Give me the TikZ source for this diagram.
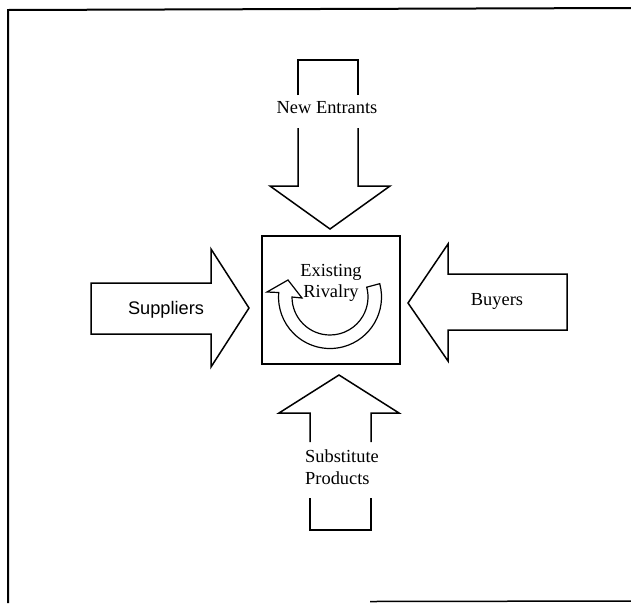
\documentclass[tikz,border=0pt]{standalone}
\usepackage{fontspec}
\setmainfont{Liberation Serif}
\newfontfamily\suppfont{Liberation Sans}
\begin{document}
\begin{tikzpicture}[x=1pt,y=-1pt,
  shape line/.style={line width=1.5pt, line join=miter},
  frame line/.style={line width=2pt},
  lbl/.style={inner sep=0pt, font=\fontsize{18.4}{21.5}\selectfont}]
\useasboundingbox (0,0) rectangle (631,603);
% outer frame (cropped at right and bottom)
\draw[frame line] (8,603) -- (8,10) -- (631,8);
\draw[line width=1.5pt] (370,601.5) -- (631,601);
% central box
\node[draw, shape line, minimum width=138pt, minimum height=128pt, inner sep=0pt] (box) at (331,300) {};
% circular rivalry arrow
\draw[shape line, line width=1.2pt]
  (330,297) ++(-15:51.5) arc[start angle=-15, end angle=185, radius=51.5]
  -- (267,292) -- (288,280) -- (302,298) -- (292,297)
  arc[start angle=180, end angle=-15, radius=38] -- cycle;
\node[lbl, align=center] (rivalry) at (331,283) {Existing\\Rivalry};
% New Entrants (down arrow)
\draw[shape line] (298,95) -- (298,60) -- (358,60) -- (358,95);
\draw[shape line] (298,128) -- (298,186) -- (270,186) -- (330,229) -- (390,186) -- (358,186) -- (358,128);
\node[lbl] (entrants) at (327,108) {New Entrants};
% Suppliers (right arrow)
\draw[shape line] (91,283) -- (211,283) -- (211,249) -- (249,308) -- (211,367) -- (211,334) -- (91,334) -- cycle;
\node[lbl, font=\suppfont\fontsize{18.2}{21.5}\selectfont] (suppliers) at (166,310) {Suppliers};
% Buyers (left arrow)
\draw[shape line] (567,274) -- (448,274) -- (448,244) -- (408,303) -- (448,361) -- (448,330) -- (567,330) -- cycle;
\node[lbl] (buyers) at (497,301) {Buyers};
% Substitute Products (up arrow)
\draw[shape line] (310,442) -- (310,413) -- (279,413) -- (339,375) -- (399,413) -- (371,413) -- (371,442);
\draw[shape line] (310,498) -- (310,530) -- (371,530) -- (371,498);
\node[lbl, align=left, anchor=west] (subst) at (305,467) {Substitute\\Products};
\end{tikzpicture}
\end{document}
